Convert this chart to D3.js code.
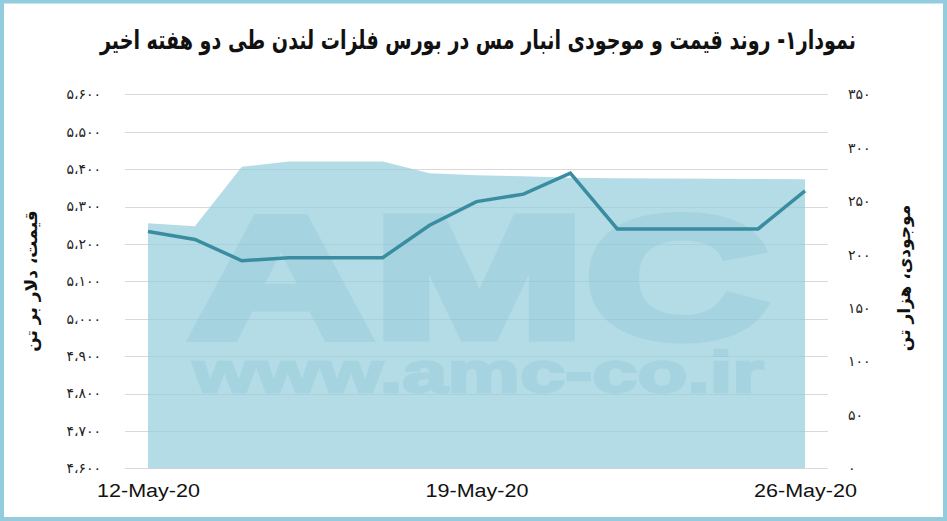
<!DOCTYPE html>
<html><head><meta charset="utf-8">
<script src="https://cdn.jsdelivr.net/npm/d3@7"></script>
<style>
html,body{margin:0;padding:0;background:#fff;}
svg{display:block;}
</style></head>
<body>
<svg id="chart" width="947" height="521"></svg>
<script>
// ---- data ----
const dates = ["2020-05-12","2020-05-13","2020-05-14","2020-05-15","2020-05-16","2020-05-17","2020-05-18",
               "2020-05-19","2020-05-20","2020-05-21","2020-05-22","2020-05-23","2020-05-24","2020-05-25","2020-05-26"];
const priceValues = [5233,5212,5155,5163,5163,5163,5250,5313,5333,5389,5240,5240,5240,5240,5342];
const stockValues = [229.3,226.5,282.2,287,287,287,276,274.2,273.2,272,271.4,271.2,271,270.7,270.4];
const priceTicks = [4600,4700,4800,4900,5000,5100,5200,5300,5400,5500,5600];
const stockTicks = [0,50,100,150,200,250,300,350];
const xTickDates = ["2020-05-12","2020-05-19","2020-05-26"];
const xTickLabels = ["12-May-20","19-May-20","26-May-20"];
const titleText = "نمودار۱- روند قیمت و موجودی انبار مس در بورس فلزات لندن طی دو هفته اخیر";
const leftTitle = "قیمت، دلار بر تن";
const rightTitle = "موجودی، هزار تن";
const watermark1 = "AMC";
const watermark2 = "www.amc-co.ir";

// ---- helpers ----
const faDigits = "۰۱۲۳۴۵۶۷۸۹";
const toFa = s => String(s).replace(/[0-9]/g, d => faDigits[+d]);
const fmtPrice = v => { const s = String(v); return toFa(s.slice(0, s.length-3)) + "،" + toFa(s.slice(-3)); };
const parse = d3.timeParse("%Y-%m-%d");

const svg = d3.select("#chart");
const W = 947, H = 521;
const plotL = 125, plotR = 828, plotTop = 94.3, plotBottom = 468.3;

const x = d3.scaleTime().domain([parse(dates[0]), parse(dates[dates.length-1])]).range([148, 805]);
const yL = d3.scaleLinear().domain([4600,5600]).range([plotBottom, plotTop]);
const yR = d3.scaleLinear().domain([0,350]).range([plotBottom, plotTop]);

// border
svg.append("rect").attr("x",2).attr("y",1.5).attr("width",W-4).attr("height",H-3.5)
  .attr("fill","none").attr("stroke","#93cddd").attr("stroke-width",4);

// title
svg.append("text").attr("x", 478).attr("y", 49)
  .attr("text-anchor","middle").attr("direction","rtl")
  .attr("font-family","DejaVu Sans").attr("font-weight","bold").attr("font-size",26)
  .attr("textLength",756).attr("lengthAdjust","spacingAndGlyphs")
  .attr("fill","#111").text(titleText);

// gridlines
const grid = svg.append("g");
grid.selectAll("line").data(priceTicks).join("line")
  .attr("x1",plotL).attr("x2",plotR)
  .attr("y1",d=>Math.round(yL(d))+0.5).attr("y2",d=>Math.round(yL(d))+0.5)
  .attr("stroke","#d9d9d9").attr("stroke-width",1);

// area (stock)
const pts = dates.map((d,i)=>({date:parse(d), price:priceValues[i], stock:stockValues[i]}));
svg.append("path").datum(pts)
  .attr("d", d3.area().x(d=>x(d.date)).y0(yR(0)).y1(d=>yR(d.stock)))
  .attr("fill","rgb(148,205,219)").attr("fill-opacity",0.7);

// watermark
const wm = svg.append("g").attr("opacity",0.2).attr("fill","rgb(110,180,200)").attr("stroke","rgb(110,180,200)")
  .attr("font-family","Liberation Sans").attr("font-weight","bold").attr("stroke-linejoin","miter");
wm.append("text").attr("x",189).attr("y",337).attr("font-size",172).attr("stroke-width",9)
  .attr("textLength",580).attr("lengthAdjust","spacingAndGlyphs").text(watermark1);
wm.append("text").attr("x",193).attr("y",392).attr("font-size",57).attr("stroke-width",2.5)
  .attr("textLength",571).attr("lengthAdjust","spacingAndGlyphs").text(watermark2);

// price line
svg.append("path").datum(pts)
  .attr("d", d3.line().x(d=>x(d.date)).y(d=>yL(d.price)))
  .attr("fill","none").attr("stroke","#3a8ca1").attr("stroke-width",3.5).attr("stroke-linejoin","miter");

// left axis labels
const leftAxis = d3.axisLeft(yL).tickValues(priceTicks).tickFormat(fmtPrice).tickSize(0).tickPadding(0);
const gL = svg.append("g").attr("transform","translate(101,0)").call(leftAxis);
gL.select(".domain").remove();
gL.selectAll("text").attr("font-family","DejaVu Sans").attr("font-size",14).attr("letter-spacing",1)
  .attr("fill","#222").attr("direction","ltr");

// right axis labels
const rightAxis = d3.axisRight(yR).tickValues(stockTicks).tickFormat(d=>toFa(d)).tickSize(0).tickPadding(0);
const gR = svg.append("g").attr("transform","translate(848,0)").call(rightAxis);
gR.select(".domain").remove();
gR.selectAll("text").attr("font-family","DejaVu Sans").attr("font-size",14).attr("letter-spacing",1)
  .attr("fill","#222").attr("direction","ltr");

// x axis labels
const xAxis = d3.axisBottom(x).tickValues(xTickDates.map(parse)).tickFormat((d,i)=>xTickLabels[i]).tickSize(0).tickPadding(0);
const gX = svg.append("g").attr("transform","translate(0,491)").call(xAxis);
gX.select(".domain").remove();
gX.selectAll("text").attr("font-family","Liberation Sans").attr("font-size",18).attr("fill","#111")
  .attr("dy","0.35em").attr("textLength",103).attr("lengthAdjust","spacingAndGlyphs");

// axis titles
svg.append("text").attr("transform","translate(37,281) rotate(-90)")
  .attr("text-anchor","middle").attr("direction","rtl")
  .attr("font-family","DejaVu Sans").attr("font-weight","bold").attr("font-size",17).attr("fill","#111")
  .text(leftTitle);
svg.append("text").attr("transform","translate(910,278) rotate(-90)")
  .attr("text-anchor","middle").attr("direction","rtl")
  .attr("font-family","DejaVu Sans").attr("font-weight","bold").attr("font-size",17).attr("fill","#111")
  .text(rightTitle);
</script>
</body></html>
